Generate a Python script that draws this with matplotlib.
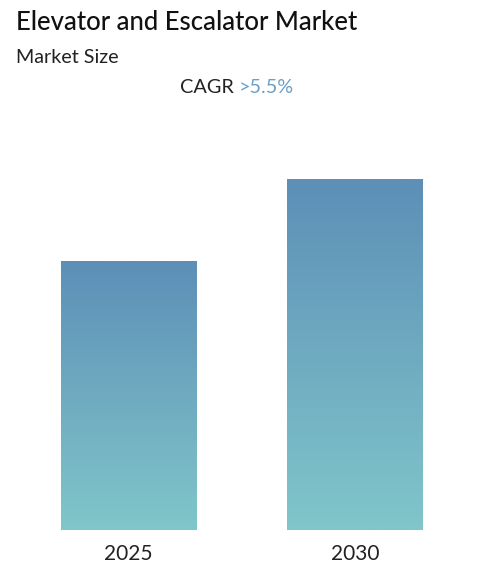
import numpy as np
import matplotlib
matplotlib.use("Agg")
from matplotlib import pyplot as plt
from matplotlib.colors import LinearSegmentedColormap

years = ["2025", "2030"]
market_size = [76.4, 100.0]   # relative

top_color = "#5d8fb7"
bottom_color = "#80c6ca"

fig = plt.figure(figsize=(4.78, 5.77), dpi=100)
ax = fig.add_axes([0, 47 / 577, 1, 351 / 577])

x = np.arange(len(years))
bars = ax.bar(x, market_size, width=0.6, color="none", edgecolor="none")

cmap = LinearSegmentedColormap.from_list("grad", [bottom_color, top_color])
grad = np.linspace(0, 1, 256).reshape(-1, 1)
for b in bars:
    x0, y0 = b.get_x(), b.get_y()
    w, h = b.get_width(), b.get_height()
    ax.imshow(grad, extent=[x0, x0 + w, y0, y0 + h], origin="lower",
              cmap=cmap, aspect="auto", zorder=2)

ax.set_xlim(-0.568, 1.541)
ax.set_ylim(0, max(market_size))
ax.set_xticks(x)
ax.set_xticklabels(years, fontsize=15, color="#222222", fontfamily="Lato")
ax.tick_params(axis="x", length=0, pad=10)
ax.set_yticks([])
for s in ax.spines.values():
    s.set_visible(False)

fig.text(16 / 478, 1 - 30 / 577, "Elevator and Escalator Market", fontsize=18.5,
         fontweight="medium", fontfamily="Lato", color="#111111")
fig.text(16 / 478, 1 - 63 / 577, "Market Size", fontsize=14.2,
         fontfamily="Lato", color="#222222")

t1 = fig.text(180 / 478, 1 - 93 / 577, "CAGR ", fontsize=14.3,
              fontfamily="Lato", color="#222222")
fig.canvas.draw()
bb = t1.get_window_extent()
fig.text(bb.x1 / fig.bbox.width, 1 - 93 / 577, ">5.5%", fontsize=14.3,
         fontfamily="Lato", color="#6a9fc9")

fig.savefig("out.png", dpi=100)
